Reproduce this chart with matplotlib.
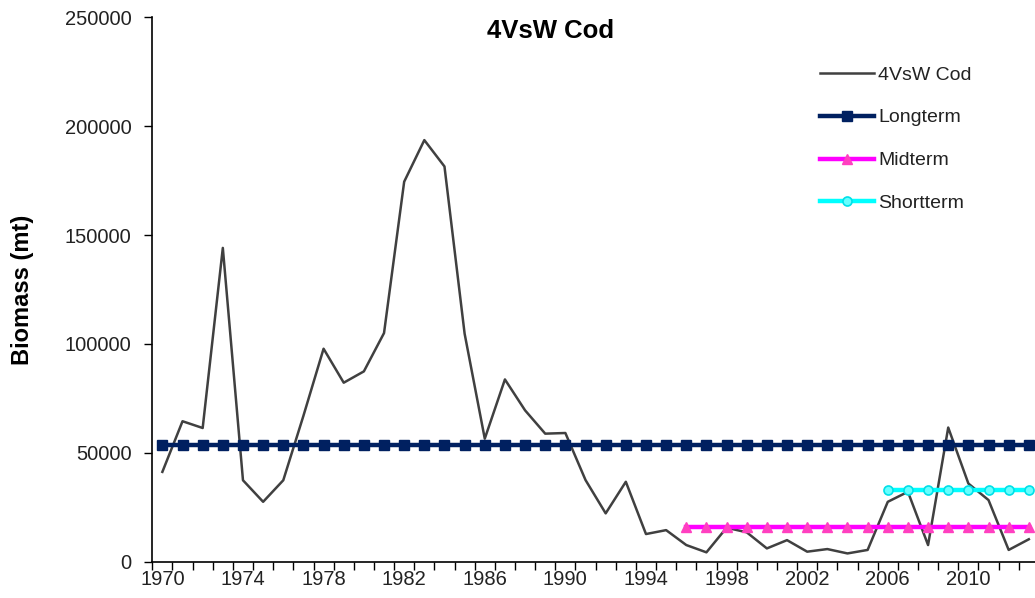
import matplotlib.pyplot as plt
import numpy as np

plt.rcParams['font.family'] = ['Liberation Sans', 'DejaVu Sans']

# values
years = list(range(1970, 2014))
biomass = [41250, 64500, 61400, 144100, 37400, 27500, 37400, 67000, 97800, 82200,
           87400, 105000, 174500, 193600, 181500, 104700, 56500, 83700, 69500, 58800,
           59100, 37500, 22200, 36700, 12700, 14500, 7650, 4300, 15600, 13500,
           6100, 9900, 4600, 5800, 3800, 5400, 27500, 32100, 7650, 61600,
           35900, 28300, 5400, 10300]

longterm_years = list(range(1970, 2014))
longterm_value = 53800
midterm_years = list(range(1996, 2014))
midterm_value = 16000
shortterm_years = list(range(2006, 2014))
shortterm_value = 32900

label_years = list(range(1970, 2014, 4))
yticks = [0, 50000, 100000, 150000, 200000, 250000]

W, H = 1035, 598
fig = plt.figure(figsize=(W / 100, H / 100), dpi=100)
ax = fig.add_axes([152.3 / W, (H - 561.7) / H, 886.6 / W, 544.4 / H])

ax.plot(years, biomass, color='#404040', lw=1.8, label='4VsW Cod', zorder=2)
ax.plot(longterm_years, [longterm_value] * len(longterm_years), color='#002060',
        lw=3.2, marker='s', ms=6.5, mfc='#002060', mec='#002060', label='Longterm', zorder=3)
ax.plot(midterm_years, [midterm_value] * len(midterm_years), color='#FF00FF',
        lw=3.2, marker='^', ms=7, mfc='#FF40C0', mec='#FF40C0', label='Midterm', zorder=3)
ax.plot(shortterm_years, [shortterm_value] * len(shortterm_years), color='#00FFFF',
        lw=3.2, marker='o', ms=6.5, mfc='#66FFFF', mec='#00E0E8', mew=1.2,
        label='Shortterm', zorder=3)

ax.set_xlim(1969.5, 2013.5)
ax.set_ylim(0, 250000)

# year boundaries carry the tick marks, labels sit on the categories
ax.set_xticks(np.arange(1969.5, 2014, 1.0))
ax.set_xticklabels([])
ax.set_xticks(label_years, minor=True)
ax.set_xticklabels([str(y) for y in label_years], minor=True)
ax.tick_params(axis='x', which='major', direction='out', length=6, width=1, color='black')
ax.tick_params(axis='x', which='minor', length=0, pad=6, labelsize=14.5, labelcolor='#222222')

ax.set_yticks(yticks)
ax.set_yticklabels([str(v) for v in yticks])
ax.tick_params(axis='y', direction='out', length=6, width=1, pad=9,
               labelsize=14.5, labelcolor='#222222')

for s in ['top', 'right']:
    ax.spines[s].set_visible(False)
for s in ['left', 'bottom']:
    ax.spines[s].set_color('black')
    ax.spines[s].set_linewidth(1.2)

ax.set_ylabel('Biomass (mt)', fontsize=17, fontweight='bold')
ax.yaxis.set_label_coords(-0.133, 0.5)

fig.text(551 / W, 1 - 31 / H, '4VsW Cod', fontsize=18.5, fontweight='bold',
         ha='center', va='center')

leg = ax.legend(loc='upper left', bbox_to_anchor=(820 / W, 1 - 66 / H),
                bbox_transform=fig.transFigure, frameon=False, fontsize=14,
                handlelength=2.8, handletextpad=0.2, labelspacing=1.3,
                borderpad=0, borderaxespad=0)
for t in leg.get_texts():
    t.set_color('#222222')

fig.savefig('out.png', dpi=100)
